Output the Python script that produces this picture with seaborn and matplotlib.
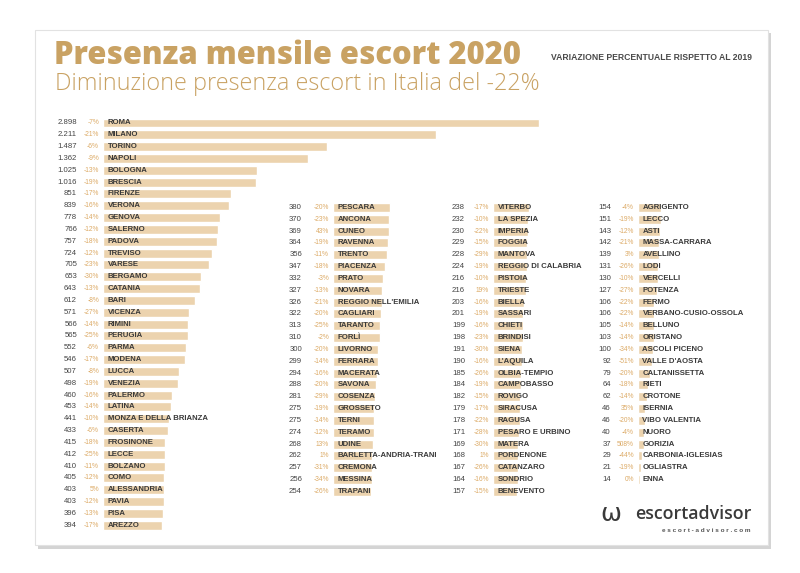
import matplotlib
matplotlib.use("Agg")
import matplotlib.pyplot as plt
from matplotlib.patches import Rectangle
import seaborn as sns
import pandas as pd

# ~~~~~~~~~~~~~~~~~~  DATA  ~~~~~~~~~~~~~~~~~~
cities_1 = ["ROMA", "MILANO", "TORINO", "NAPOLI", "BOLOGNA", "BRESCIA", "FIRENZE",
            "VERONA", "GENOVA", "SALERNO", "PADOVA", "TREVISO", "VARESE", "BERGAMO",
            "CATANIA", "BARI", "VICENZA", "RIMINI", "PERUGIA", "PARMA", "MODENA",
            "LUCCA", "VENEZIA", "PALERMO", "LATINA", "MONZA E DELLA BRIANZA",
            "CASERTA", "FROSINONE", "LECCE", "BOLZANO", "COMO", "ALESSANDRIA",
            "PAVIA", "PISA", "AREZZO"]
escort_1 = [2898, 2211, 1487, 1362, 1025, 1016, 851, 839, 778, 766, 757, 724, 705,
            653, 643, 612, 571, 566, 565, 552, 546, 507, 498, 460, 453, 441, 433,
            415, 412, 410, 405, 403, 403, 396, 394]
change_1 = [-7, -21, -6, -9, -13, -19, -17, -16, -14, -12, -18, -12, -23, -30, -13,
            -8, -27, -14, -25, -6, -17, -8, -19, -16, -14, -10, -6, -18, -25, -11,
            -12, 5, -12, -13, -17]

cities_2 = ["PESCARA", "ANCONA", "CUNEO", "RAVENNA", "TRENTO", "PIACENZA", "PRATO",
            "NOVARA", "REGGIO NELL'EMILIA", "CAGLIARI", "TARANTO", "FORLÌ", "LIVORNO",
            "FERRARA", "MACERATA", "SAVONA", "COSENZA", "GROSSETO", "TERNI", "TERAMO",
            "UDINE", "BARLETTA-ANDRIA-TRANI", "CREMONA", "MESSINA", "TRAPANI"]
escort_2 = [380, 370, 369, 364, 356, 347, 332, 327, 326, 322, 313, 310, 300, 299,
            294, 288, 281, 275, 275, 274, 268, 262, 257, 256, 254]
change_2 = [-20, -23, 43, -19, -11, -18, -3, -13, -21, -20, -25, -2, -20, -14, -16,
            -20, -29, -19, -14, -12, 13, 1, -31, -34, -26]

cities_3 = ["VITERBO", "LA SPEZIA", "IMPERIA", "FOGGIA", "MANTOVA",
            "REGGIO DI CALABRIA", "PISTOIA", "TRIESTE", "BIELLA", "SASSARI", "CHIETI",
            "BRINDISI", "SIENA", "L'AQUILA", "OLBIA-TEMPIO", "CAMPOBASSO", "ROVIGO",
            "SIRACUSA", "RAGUSA", "PESARO E URBINO", "MATERA", "PORDENONE",
            "CATANZARO", "SONDRIO", "BENEVENTO"]
escort_3 = [238, 232, 230, 229, 228, 224, 216, 216, 203, 201, 199, 198, 191, 190,
            185, 184, 182, 179, 178, 171, 169, 168, 167, 164, 157]
change_3 = [-17, -10, -22, -15, -29, -19, -10, 19, -16, -19, -16, -23, -30, -16,
            -26, -19, -15, -17, -22, -28, -30, 1, -26, -16, -15]

cities_4 = ["AGRIGENTO", "LECCO", "ASTI", "MASSA-CARRARA", "AVELLINO", "LODI",
            "VERCELLI", "POTENZA", "FERMO", "VERBANO-CUSIO-OSSOLA", "BELLUNO",
            "ORISTANO", "ASCOLI PICENO", "VALLE D'AOSTA", "CALTANISSETTA", "RIETI",
            "CROTONE", "ISERNIA", "VIBO VALENTIA", "NUORO", "GORIZIA",
            "CARBONIA-IGLESIAS", "OGLIASTRA", "ENNA"]
escort_4 = [154, 151, 143, 142, 139, 131, 130, 127, 106, 106, 105, 103, 100, 92, 79,
            64, 62, 46, 46, 40, 37, 29, 21, 14]
change_4 = [-4, -19, -12, -21, 3, -26, -10, -27, -22, -22, -14, -14, -34, -51, -20,
            -18, -14, 35, -20, -4, 508, -44, -19, 0]

title = "Presenza mensile escort 2020"
subtitle = "Diminuzione presenza escort in Italia del -22%"
note = "VARIAZIONE PERCENTUALE RISPETTO AL 2019"

# ~~~~~~~~~~~~~~~~~~  STYLE  ~~~~~~~~~~~~~~~~~~
sns.set_theme(style="white")
plt.rcParams['font.family'] = ['Liberation Sans', 'DejaVu Sans']

BAR = "#ecd3ae"
GOLD = "#c9a263"
PCT = "#dcaa66"
DARK = "#3a3a3a"

W, H = 800, 573
PX_PER_UNIT = 0.1505
ROW = 11.83

fig = plt.figure(figsize=(8, 5.73), dpi=100)
fig.patch.set_facecolor("white")

# card with shadow (behind the axes)
fig.patches.append(Rectangle((38 / W, 1 - 549 / H), 733 / W, 516 / H,
                             transform=fig.transFigure, facecolor="#d4d4d4",
                             edgecolor="none", zorder=-3))
fig.patches.append(Rectangle((35 / W, 1 - 545 / H), 733 / W, 515 / H,
                             transform=fig.transFigure, facecolor="white",
                             edgecolor="#e2e2e2", linewidth=0.8, zorder=-2))

# (bar start px, first row center px, axis width px, value offset px)
columns = [
    (cities_1, escort_1, change_1, 103, 123, 450, -26),
    (cities_2, escort_2, change_2, 333, 207.5, 150, -31),
    (cities_3, escort_3, change_3, 493, 207.5, 140, -28),
    (cities_4, escort_4, change_4, 638, 207.5, 120, -27),
]

for names, vals, pcts, x0, y0, wpx, voff in columns:
    n = len(names)
    top = y0 - ROW / 2
    bottom = y0 + (n - 0.5) * ROW
    ax = fig.add_axes([x0 / W, 1 - bottom / H, wpx / W, (bottom - top) / H])
    ax.patch.set_alpha(0)
    df = pd.DataFrame({"city": names, "escort": vals})
    sns.barplot(data=df, x="escort", y="city", orient="h", color=BAR,
                width=0.76, saturation=1, ax=ax, zorder=2)
    ax.set_xlim(0, wpx / PX_PER_UNIT)
    ax.set_ylim(n - 0.5, -0.5)
    ax.axis("off")
    for i, (name, v, p) in enumerate(zip(names, vals, pcts)):
        ax.annotate(f"{v:,}".replace(",", "."), xy=(0, i),
                    xytext=(voff * 0.72, 0), textcoords="offset points",
                    ha="right", va="center", fontsize=5.6, color="#444444",
                    zorder=3)
        ax.annotate(f"{p}%", xy=(0, i), xytext=(-4 * 0.72, 0),
                    textcoords="offset points", ha="right", va="center",
                    fontsize=4.8, color=PCT, zorder=3)
        ax.annotate(name, xy=(0, i), xytext=(4.5 * 0.72, 0),
                    textcoords="offset points", ha="left", va="center",
                    fontsize=5.6, fontweight="bold", color=DARK, zorder=3)

# ~~~~~~~~~~~~~~~~~~  TEXTS  ~~~~~~~~~~~~~~~~~~
fig.text(54 / W, 1 - 56 / H, title, ha="left", va="center", fontsize=22.3,
         fontweight="heavy", color=GOLD, family=["Open Sans", "DejaVu Sans"])
fig.text(55 / W, 1 - 84 / H, subtitle, ha="left", va="center", fontsize=16.8,
         fontweight="light", color=GOLD, family=["Open Sans", "DejaVu Sans"])
fig.text(752 / W, 1 - 57 / H, note, ha="right", va="center", fontsize=6.2,
         fontweight="bold", color="#4a4a4a")

# logo
fig.text(611 / W, 1 - 514 / H, "ω", ha="center", va="center", fontsize=18,
         color=DARK, family=["DejaVu Sans"])
fig.text(752 / W, 1 - 514 / H, "escortadvisor", ha="right", va="center",
         fontsize=12.8, fontweight="semibold", color=DARK,
         family=["Open Sans", "DejaVu Sans"])
fig.text(750 / W, 1 - 531 / H, "e s c o r t - a d v i s o r . c o m", ha="right",
         va="center", fontsize=4.6, fontweight="bold", color="#555555")

plt.savefig("out.png", dpi=100)
